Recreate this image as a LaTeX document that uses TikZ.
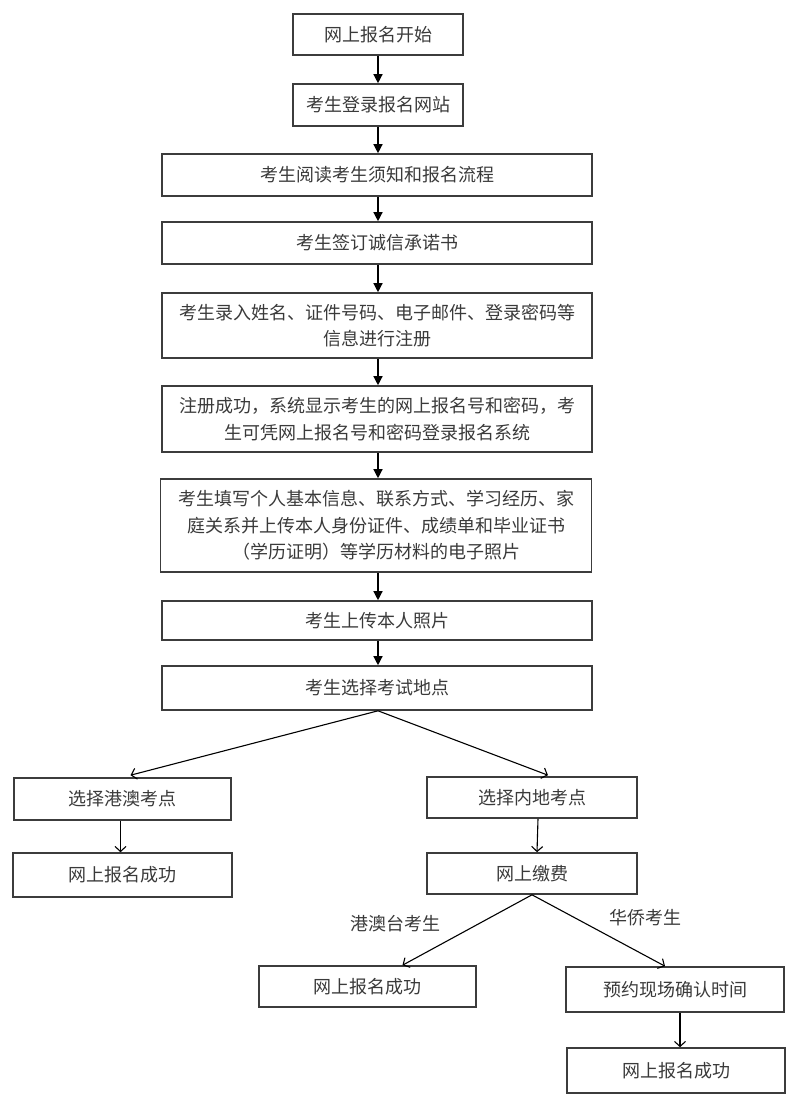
\documentclass[tikz,border=0pt]{standalone}
\usepackage{fontspec}
\setmainfont{Noto Sans CJK SC}
\usepackage{xcolor}
\usetikzlibrary{
    arrows.meta,
    positioning
}
\definecolor{boxgray}{HTML}{3C3C3C}
\definecolor{txtgray}{HTML}{3A3A3A}
\tikzset{
    box/.style={draw=boxgray, line width=1.6pt, align=center, text=txtgray,
        inner sep=0pt, font=\fontsize{18pt}{26.5pt}\selectfont},
    tag/.style={text=txtgray, inner sep=0pt, font=\fontsize{18pt}{22pt}\selectfont},
    solid tip/.style={-{Triangle[length=9pt,width=9pt]}},
    open tip/.style={-{Straight Barb[length=5pt,width=11pt]}}
}

\begin{document}
\begin{tikzpicture}[x=1pt, y=-1pt]
    \useasboundingbox (0, 0) rectangle (800, 1105);

    \node[box, minimum width=170, minimum height=41] (s1) at (378, 34.5) {网上报名开始};
    \node[box, minimum width=170, minimum height=42] (s2) at (378, 105) {考生登录报名网站};
    \node[box, minimum width=430, minimum height=42] (s3) at (377, 175) {考生阅读考生须知和报名流程};
    \node[box, minimum width=430, minimum height=42] (s4) at (377, 243) {考生签订诚信承诺书};
    \node[box, minimum width=430, minimum height=65] (s5) at (377, 325.5) {考生录入姓名、证件号码、电子邮件、登录密码等\\信息进行注册};
    \node[box, minimum width=430, minimum height=66] (s6) at (377, 419) {注册成功，系统显示考生的网上报名号和密码，考\\生可凭网上报名号和密码登录报名系统};
    \node[box, minimum width=431, minimum height=93] (s7) at (376, 525.5) {考生填写个人基本信息、联系方式、学习经历、家\\庭关系并上传本人身份证件、成绩单和毕业证书\\（学历证明）等学历材料的电子照片};
    \node[box, minimum width=430, minimum height=39] (s8) at (377, 620.5) {考生上传本人照片};
    \node[box, minimum width=430, minimum height=44] (s9) at (377, 688) {考生选择考试地点};

    \node[box, minimum width=217, minimum height=42] (hk) at (122.5, 799) {选择港澳考点};
    \node[box, minimum width=219, minimum height=44] (hkok) at (122.5, 875) {网上报名成功};
    \node[box, minimum width=210, minimum height=41] (ml) at (532, 797.5) {选择内地考点};
    \node[box, minimum width=210, minimum height=41] (pay) at (532, 873.5) {网上缴费};
    \node[box, minimum width=217, minimum height=41] (gatok) at (367.5, 986.5) {网上报名成功};
    \node[box, minimum width=218, minimum height=45] (book) at (675, 989.5) {预约现场确认时间};
    \node[box, minimum width=218, minimum height=45] (hqok) at (676, 1070.5) {网上报名成功};

    \node[tag] (gat) at (395, 924) {港澳台考生};
    \node[tag] (hq) at (645, 918) {华侨考生};

    \draw[line width=1.3pt]
    (s1) edge[solid tip] (s2)
    (s2.south -| s1) edge[solid tip] (s3.north -| s1)
    (s3.south -| s1) edge[solid tip] (s4.north -| s1)
    (s4.south -| s1) edge[solid tip] (s5.north -| s1)
    (s5.south -| s1) edge[solid tip] (s6.north -| s1)
    (s6.south -| s1) edge[solid tip] (s7.north -| s1)
    (s7.south -| s1) edge[solid tip] (s8.north -| s1)
    (s8.south -| s1) edge[solid tip] (s9.north -| s1);

    \draw[line width=1.1pt]
    (s9.south -| s1) edge[open tip] ([xshift=8pt, yshift=2pt]hk.north)
    (s9.south -| s1) edge[open tip] ([xshift=16pt, yshift=1pt]ml.north)
    ([xshift=-2pt]hk.south) edge[open tip] ([xshift=-2pt]hkok.north)
    ([xshift=6pt]ml.south) edge[open tip] ([xshift=5pt]pay.north)
    (pay.south) edge[open tip] ([xshift=35pt]gatok.north)
    (pay.south) edge[open tip] ([xshift=-10pt]book.north)
    ([xshift=5pt]book.south) edge[open tip] ([xshift=4pt]hqok.north);
\end{tikzpicture}
\end{document}
